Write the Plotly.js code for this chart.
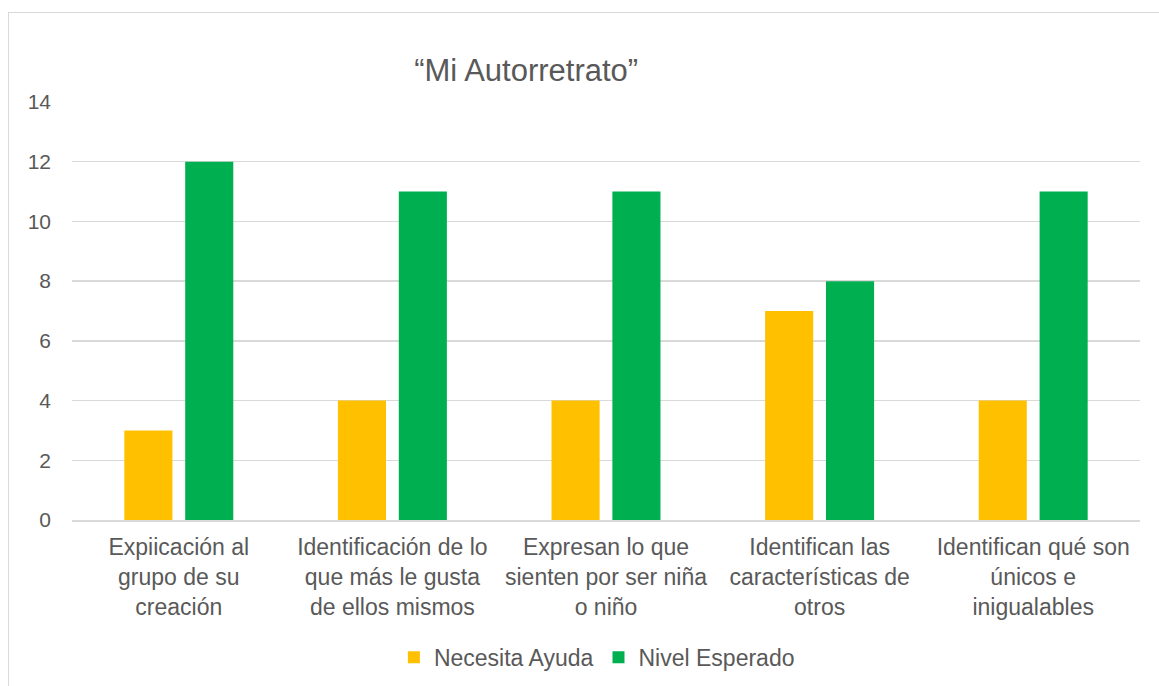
<!DOCTYPE html>
<html><head><meta charset="utf-8">
<script src="https://cdn.plot.ly/plotly-3.0.1.min.js"></script>
<style>
html,body{margin:0;padding:0;background:#fff;}
#chart{width:1159px;height:686px;position:relative;}
#frame{position:absolute;left:8px;top:12px;width:1200px;height:720px;border:1.5px solid #d9d9d9;pointer-events:none;box-sizing:border-box;}
</style></head>
<body>
<div id="chart"></div>
<div id="frame"></div>
<script>
const categories = [
  "Expiicación al<br>grupo de su<br>creación",
  "Identificación de lo<br>que más le gusta<br>de ellos mismos",
  "Expresan lo que<br>sienten por ser niña<br>o niño",
  "Identifican las<br>características de<br>otros",
  "Identifican qué son<br>únicos e<br>inigualables"
];
const necesitaAyuda = [3, 4, 4, 7, 4];
const nivelEsperado = [12, 11, 11, 8, 11];
const yTicks = [0, 2, 4, 6, 8, 10, 12, 14];

const font = {family: "Liberation Sans, Arial, sans-serif", color: "#595959"};
const traces = [
  {type: "bar", name: "Necesita Ayuda", x: categories, y: necesitaAyuda, marker: {color: "#FFC000"}},
  {type: "bar", name: "Nivel Esperado", x: categories, y: nivelEsperado, marker: {color: "#00B050"}}
];
const layout = {
  width: 1159, height: 686,
  margin: {l: 72, r: 19, t: 102, b: 166},
  paper_bgcolor: "#fff", plot_bgcolor: "#fff",
  font: Object.assign({size: 23}, font),
  title: {text: "“Mi Autorretrato”", font: Object.assign({size: 31}, font), xref: "container", x: 0.454, xanchor: "center", yref: "container", y: 0.898, yanchor: "middle"},
  barmode: "group", bargap: 0.43, bargroupgap: 0.21,
  xaxis: {type: "category", tickangle: 0, showgrid: false, showline: true, linecolor: "#d9d9d9", linewidth: 1.5, ticks: "", tickfont: Object.assign({size: 23}, font), ticklabelstandoff: 6},
  yaxis: {range: [0, 14], tickvals: yTicks, showgrid: true, gridcolor: "#d9d9d9", gridwidth: 1.5, zeroline: false, showline: false, ticks: "", tickfont: Object.assign({size: 21}, font), ticklabelstandoff: 20},
  showlegend: true,
  legend: {orientation: "h", xref: "container", x: 0.515, xanchor: "center", yref: "container", y: 0.042, yanchor: "middle", font: Object.assign({size: 23}, font), itemwidth: 30}
};
Plotly.newPlot("chart", traces, layout, {displayModeBar: false, staticPlot: true});
</script>
</body></html>
